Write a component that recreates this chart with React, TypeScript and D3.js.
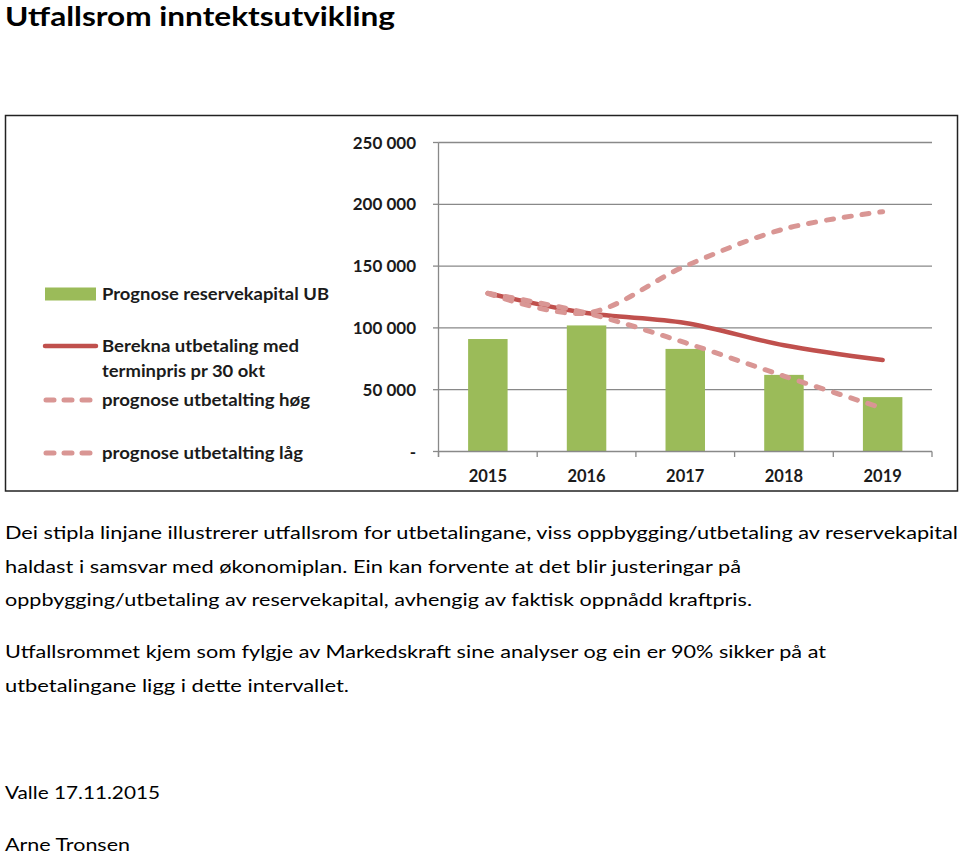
import React from 'react';
import * as d3 from 'd3';

const years = ['2015', '2016', '2017', '2018', '2019'];
const reserveKapital = [91000, 102000, 83000, 62000, 44000];
const berekna = [128000, 112000, 104000, 86000, 74000];
const progHog = [128000, 112000, 150000, 180000, 194000];
const progLag = [128000, 112000, 88000, 61000, 35000];
const yTicks = [0, 50000, 100000, 150000, 200000, 250000];
const yTickLabels = ['-', '50 000', '100 000', '150 000', '200 000', '250 000'];

const legendItems = [
  { kind: 'bar', lines: ['Prognose reservekapital UB'], widths: [227] },
  { kind: 'solid', lines: ['Berekna utbetaling med', 'terminpris pr 30 okt'], widths: [197, 163] },
  { kind: 'dash', lines: ['prognose utbetalting høg'], widths: [208] },
  { kind: 'dash', lines: ['prognose utbetalting låg'], widths: [201] },
];

const title = 'Utfallsrom inntektsutvikling';
const bodyLines = [
  'Dei stipla linjane illustrerer utfallsrom for utbetalingane, viss oppbygging/utbetaling av reservekapital',
  'haldast i samsvar med økonomiplan. Ein kan forvente at det blir justeringar på',
  'oppbygging/utbetaling av reservekapital, avhengig av faktisk oppnådd kraftpris.',
  'Utfallsrommet kjem som fylgje av Markedskraft sine analyser og ein er 90% sikker på at',
  'utbetalingane ligg i dette intervallet.',
];
const signature = ['Valle 17.11.2015', 'Arne Tronsen'];

const GREEN = '#9BBB59';
const RED = '#C0504D';
const PINK = '#D99694';
const GRID = '#898989';
const TXT = '#1b1b1b';
const FONT = 'Lato, "Open Sans", sans-serif';

export default function App() {
  const x = d3.scaleBand<string>().domain(years).range([438.5, 932]).paddingInner(0.6).paddingOuter(0.3);
  const xc = (i: number) => (x(years[i]) as number) + x.bandwidth() / 2;
  const y = d3.scaleLinear().domain([0, 250000]).range([451.5, 142.5]);
  const step = x.step();

  const line = d3
    .line<number>()
    .x((_, i) => xc(i))
    .y((d) => y(d))
    .curve(d3.curveCatmullRom.alpha(0.5));

  const bodyBaselines = [539, 573, 606, 658, 692];
  const bodyWidths = [953, 736, 747, 821, 344];
  const legendY = [294, 346, 400, 453];

  return (
    <svg
      width={960}
      height={855}
      style={{ position: 'absolute', left: 0, top: 0, background: '#fff' }}
      fontFamily={FONT}
    >
      <rect x={0} y={0} width={960} height={855} fill="#fff" />
      <text x={5} y={25.5} fontSize={26} fontWeight={700} fill="#000" textLength={390} lengthAdjust="spacingAndGlyphs">
        {title}
      </text>

      {/* chart frame */}
      <rect x={5.5} y={115.5} width={952} height={375.5} fill="#fff" stroke="#222" strokeWidth={1.5} />

      {/* gridlines */}
      {yTicks.map((t, i) => (
        <g key={t}>
          {i > 0 && <line x1={438.5} x2={932} y1={y(t)} y2={y(t)} stroke={GRID} strokeWidth={1.3} />}
          <line x1={433} x2={438.5} y1={y(t)} y2={y(t)} stroke={GRID} strokeWidth={1.3} />
          <text
            x={416}
            y={y(t) + 6}
            textAnchor="end"
            fontSize={17}
            fontWeight={700}
            fill={TXT}
          >
            {yTickLabels[i]}
          </text>
        </g>
      ))}

      {/* bars */}
      {reserveKapital.map((v, i) => (
        <rect key={years[i]} x={x(years[i])} y={y(v)} width={x.bandwidth()} height={y(0) - y(v)} fill={GREEN} />
      ))}

      {/* axes */}
      <line x1={438.5} x2={438.5} y1={y(250000)} y2={457} stroke={GRID} strokeWidth={1.3} />
      <line x1={438.5} x2={932} y1={y(0)} y2={y(0)} stroke={GRID} strokeWidth={1.3} />
      {d3.range(years.length + 1).map((i) => (
        <line
          key={i}
          x1={438.5 + i * step}
          x2={438.5 + i * step}
          y1={y(0)}
          y2={457}
          stroke={GRID}
          strokeWidth={1.3}
        />
      ))}
      {years.map((yr, i) => (
        <text key={yr} x={xc(i)} y={482} textAnchor="middle" fontSize={16.5} fontWeight={700} fill={TXT}>
          {yr}
        </text>
      ))}

      {/* lines */}
      <path d={line(berekna) || ''} fill="none" stroke={RED} strokeWidth={4.5} strokeLinecap="round" />
      <path
        d={line(progLag) || ''}
        fill="none"
        stroke={PINK}
        strokeWidth={5}
        strokeDasharray="7 11"
        strokeLinecap="round"
      />
      <path
        d={line(progHog) || ''}
        fill="none"
        stroke={PINK}
        strokeWidth={5}
        strokeDasharray="7 11"
        strokeLinecap="round"
      />

      {/* legend */}
      {legendItems.map((it, i) => {
        const cy = legendY[i];
        return (
          <g key={i}>
            {it.kind === 'bar' && <rect x={45} y={cy - 6.5} width={51} height={13} fill={GREEN} />}
            {it.kind === 'solid' && (
              <line x1={45} x2={96} y1={cy} y2={cy} stroke={RED} strokeWidth={4.5} strokeLinecap="round" />
            )}
            {it.kind === 'dash' && (
              <line
                x1={46}
                x2={96}
                y1={cy}
                y2={cy}
                stroke={PINK}
                strokeWidth={5}
                strokeDasharray="8 10"
                strokeLinecap="round"
              />
            )}
            {it.lines.map((l, j) => (
              <text
                key={j}
                x={102}
                y={cy + 6 + j * 25}
                fontSize={17.5}
                fontWeight={700}
                fill={TXT}
                textLength={it.widths[j]}
                lengthAdjust="spacingAndGlyphs"
              >
                {l}
              </text>
            ))}
          </g>
        );
      })}

      {/* body text */}
      {bodyLines.map((l, i) => (
        <text
          key={i}
          x={5}
          y={bodyBaselines[i]}
          fontSize={17}
          fill="#000"
          textLength={bodyWidths[i]}
          lengthAdjust="spacingAndGlyphs"
        >
          {l}
        </text>
      ))}
      <text x={5} y={799} fontSize={18} fill="#000" textLength={155} lengthAdjust="spacingAndGlyphs">
        {signature[0]}
      </text>
      <text x={5} y={851} fontSize={18} fill="#000" textLength={125} lengthAdjust="spacingAndGlyphs">
        {signature[1]}
      </text>
    </svg>
  );
}
